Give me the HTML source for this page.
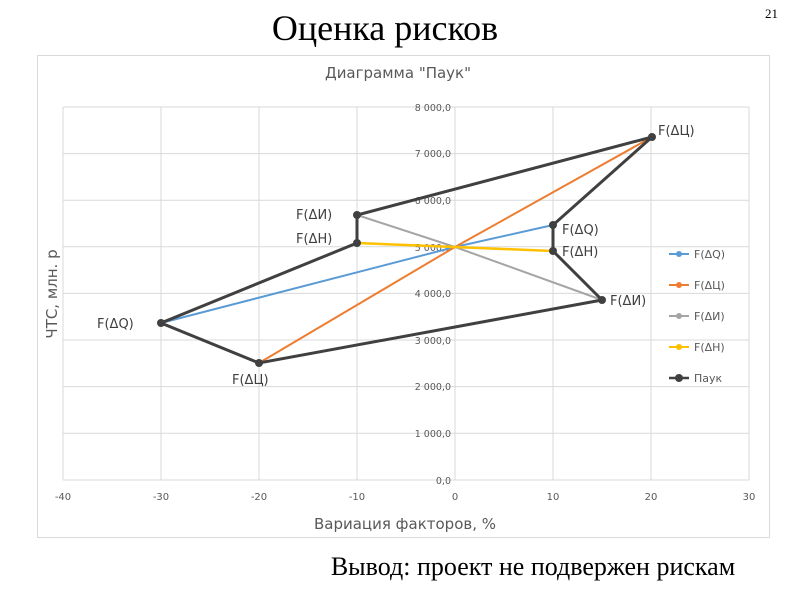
<!DOCTYPE html>
<html><head><meta charset="utf-8"><style>
body{margin:0;background:#fff;width:800px;height:600px;overflow:hidden}
svg text{font-family:"DejaVu Sans","Liberation Sans",sans-serif}
</style></head><body>
<svg width="800" height="600" xmlns="http://www.w3.org/2000/svg">
<text x="385" y="40" text-anchor="middle" font-size="36" style="font-family:'Liberation Serif',serif">Оценка рисков</text>
<text x="778" y="18" text-anchor="end" font-size="13" style="font-family:'Liberation Serif',serif">21</text>
<rect x="37.5" y="55.5" width="732" height="482" fill="#fff" stroke="#d9d9d9"/>
<text x="398" y="78" text-anchor="middle" font-size="15" fill="#595959">Диаграмма "Паук"</text>
<g stroke="#d9d9d9" stroke-width="1">
<line x1="63" y1="107" x2="63" y2="480"/><line x1="161" y1="107" x2="161" y2="480"/><line x1="259" y1="107" x2="259" y2="480"/><line x1="357" y1="107" x2="357" y2="480"/><line x1="553" y1="107" x2="553" y2="480"/><line x1="651" y1="107" x2="651" y2="480"/><line x1="749" y1="107" x2="749" y2="480"/>
<line x1="63" y1="107" x2="749" y2="107"/><line x1="63" y1="153.6" x2="749" y2="153.6"/><line x1="63" y1="200.2" x2="749" y2="200.2"/><line x1="63" y1="246.8" x2="749" y2="246.8"/><line x1="63" y1="293.4" x2="749" y2="293.4"/><line x1="63" y1="340" x2="749" y2="340"/><line x1="63" y1="386.6" x2="749" y2="386.6"/><line x1="63" y1="433.2" x2="749" y2="433.2"/><line x1="63" y1="480" x2="749" y2="480"/>
<line x1="455" y1="107" x2="455" y2="480"/>
</g>
<g font-size="9.5" fill="#595959" text-anchor="end">
<text x="451" y="111">8 000,0</text><text x="451" y="157">7 000,0</text><text x="451" y="204">6 000,0</text><text x="451" y="251">5 000,0</text><text x="451" y="297">4 000,0</text><text x="451" y="344">3 000,0</text><text x="451" y="390">2 000,0</text><text x="451" y="437">1 000,0</text><text x="451" y="484">0,0</text>
</g>
<g font-size="10" fill="#595959" text-anchor="middle">
<text x="63" y="500">-40</text><text x="161" y="500">-30</text><text x="259" y="500">-20</text><text x="357" y="500">-10</text><text x="455" y="500">0</text><text x="553" y="500">10</text><text x="651" y="500">20</text><text x="749" y="500">30</text>
</g>
<text x="405" y="529" text-anchor="middle" font-size="15" fill="#595959">Вариация факторов, %</text>
<text transform="translate(57,294) rotate(-90)" text-anchor="middle" font-size="15" fill="#595959">ЧТС, млн. р</text>
<g fill="none" stroke-width="2">
<polyline points="161,323 455,247 553,225" stroke="#5b9bd5"/>
<polyline points="259,363 455,247 652,137" stroke="#ed7d31"/>
<polyline points="357,215 455,247 602,300" stroke="#a5a5a5"/>
<polyline points="357,243 455,247 553,251" stroke="#ffc000" stroke-width="2.5"/>
<polygon points="652,137 357,215 357,243 161,323 259,363 602,300 553,251 553,225" stroke="#404040" stroke-width="3"/>
</g>
<g fill="#404040">
<circle cx="652" cy="137" r="4"/><circle cx="357" cy="215" r="4"/><circle cx="357" cy="243" r="4"/><circle cx="161" cy="323" r="4"/><circle cx="259" cy="363" r="4"/><circle cx="602" cy="300" r="4"/><circle cx="553" cy="251" r="4"/><circle cx="553" cy="225" r="4"/>
</g>
<g font-size="13" fill="#404040">
<text x="658" y="135">F(ΔЦ)</text>
<text x="296" y="219">F(ΔИ)</text>
<text x="296" y="243">F(ΔН)</text>
<text x="97" y="328">F(ΔQ)</text>
<text x="232" y="384">F(ΔЦ)</text>
<text x="610" y="305">F(ΔИ)</text>
<text x="562" y="256">F(ΔН)</text>
<text x="562" y="234">F(ΔQ)</text>
</g>
<g font-size="11" fill="#595959">
<line x1="669" y1="254" x2="689" y2="254" stroke="#5b9bd5" stroke-width="2"/><circle cx="679" cy="254" r="3" fill="#5b9bd5"/><text x="694" y="258">F(ΔQ)</text>
<line x1="669" y1="285" x2="689" y2="285" stroke="#ed7d31" stroke-width="2"/><circle cx="679" cy="285" r="3" fill="#ed7d31"/><text x="694" y="289">F(ΔЦ)</text>
<line x1="669" y1="316" x2="689" y2="316" stroke="#a5a5a5" stroke-width="2"/><circle cx="679" cy="316" r="3" fill="#a5a5a5"/><text x="694" y="320">F(ΔИ)</text>
<line x1="669" y1="347" x2="689" y2="347" stroke="#ffc000" stroke-width="2"/><circle cx="679" cy="347" r="3" fill="#ffc000"/><text x="694" y="351">F(ΔН)</text>
<line x1="669" y1="378" x2="689" y2="378" stroke="#404040" stroke-width="2.5"/><circle cx="679" cy="378" r="4" fill="#404040"/><text x="694" y="382">Паук</text>
</g>
<text x="533" y="575" text-anchor="middle" font-size="26" style="font-family:'Liberation Serif',serif">Вывод: проект не подвержен рискам</text>
</svg>
</body></html>
